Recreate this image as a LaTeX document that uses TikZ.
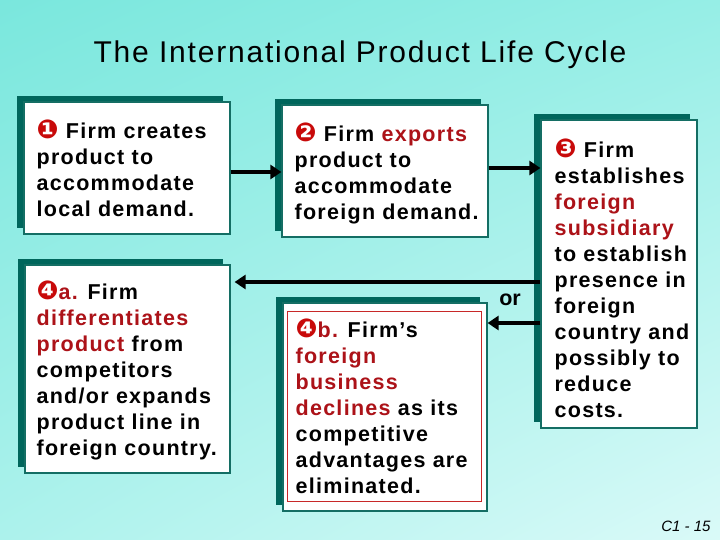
\documentclass[tikz,border=0pt]{standalone}
\usepackage{fontspec}
\usepackage{xcolor}
\usepackage{tikz}
\usetikzlibrary{shapes,arrows,positioning,calc,shadows,shadings,arrows.meta}
\setmainfont{Liberation Sans}
\newfontfamily\boxfont[LetterSpace=6]{Liberation Sans}
\newfontfamily\titlefont[LetterSpace=6]{Liberation Sans}
\newfontfamily\dingfont{DejaVu Sans}

\definecolor{shadowteal}{RGB}{0,102,92}
\definecolor{edgeteal}{RGB}{20,110,100}
\definecolor{hotred}{RGB}{172,18,24}
\definecolor{numred}{RGB}{200,10,10}
\definecolor{boxred}{RGB}{200,40,40}
\definecolor{bgul}{RGB}{122,231,221}
\definecolor{bgur}{RGB}{150,238,230}
\definecolor{bgll}{RGB}{172,242,236}
\definecolor{bglr}{RGB}{218,250,248}

\newcommand{\numdot}[1]{{\color{numred}\dingfont\fontsize{26}{26}\selectfont #1}}
\newcommand{\hl}[1]{\textcolor{hotred}{#1}}

\tikzset{
    stagebox/.style={draw=edgeteal, line width=1.2pt, fill=white, inner sep=0pt,
        drop shadow={shadow xshift=-7pt, shadow yshift=6pt, fill=shadowteal, opacity=1}},
    stagetext/.style={anchor=west, align=left, inner sep=0pt,
        font=\boxfont\bfseries\fontsize{21.5}{26}\selectfont},
    flow/.style={line width=4pt, -{Triangle[length=11pt,width=14pt]}}
}

\begin{document}
\begin{tikzpicture}[x=1pt, y=-1pt]
    % Background
    \shade[upper left=bgul, upper right=bgur, lower left=bgll, lower right=bglr]
        (0,0) rectangle (720,540);
    \useasboundingbox (0,0) rectangle (720,540);

    \node[font=\titlefont\fontsize{30}{34}\selectfont] (title) at (360,55) {The International Product Life Cycle};

    % Stages
    \node[stagebox, minimum width=206pt, minimum height=132pt] (b1) at (127,168) {};
    \node[stagebox, minimum width=206pt, minimum height=132pt] (b2) at (385,171) {};
    \node[stagebox, minimum width=156pt, minimum height=308pt] (b3) at (619,274) {};
    \node[stagebox, minimum width=205pt, minimum height=208pt] (b4a) at (127.5,369) {};
    \node[stagebox, minimum width=204pt, minimum height=208pt] (b4b) at (385,407) {};
    \draw[boxred, line width=1pt] ($(b4b.north west)+(5,9)$) rectangle ($(b4b.south east)+(-6,-10)$);

    \node[stagetext] (t1) at ([xshift=13pt]b1.west)
        {\numdot{❶} Firm creates\\product to\\accommodate\\local demand.};
    \node[stagetext] (t2) at ([xshift=13pt, yshift=-2pt]b2.west)
        {\numdot{❷} Firm \hl{exports}\\product to\\accommodate\\foreign demand.};
    \node[stagetext] (t3) at ([xshift=14pt, yshift=-4pt]b3.west)
        {\numdot{❸} Firm\\establishes\\\hl{foreign}\\\hl{subsidiary}\\to establish\\presence in\\foreign\\country and\\possibly to\\reduce\\costs.};
    \node[stagetext] (t4a) at ([xshift=12pt, yshift=-1pt]b4a.west)
        {\numdot{❹}\hl{a.} Firm\\\hl{differentiates}\\\hl{product} from\\competitors\\and/or expands\\product line in\\foreign country.};
    \node[stagetext] (t4b) at ([xshift=13pt, yshift=1pt]b4b.west)
        {\numdot{❹}\hl{b.} Firm’s\\\hl{foreign}\\\hl{business}\\\hl{declines} as its\\competitive\\advantages are\\eliminated.};

    % Connectors
    \draw[flow] (b1.east |- 0,172) -- (b2.west |- 0,172);
    \draw[flow] (b2.east |- 0,168) -- (b3.west |- 0,168);
    \draw[flow, shorten >=-1pt] (b3.west |- 0,282) -- ([xshift=5pt]b4a.east |- 0,282);
    \draw[flow] (b3.west |- 0,323) -- (b4b.east |- 0,323);
    \node[font=\bfseries\fontsize{21.5}{26}\selectfont] (or) at (510,300) {or};

    \node[anchor=south east, font=\itshape\fontsize{15}{18}\selectfont] (page) at (714,535) {C1 - 15};
\end{tikzpicture}
\end{document}
